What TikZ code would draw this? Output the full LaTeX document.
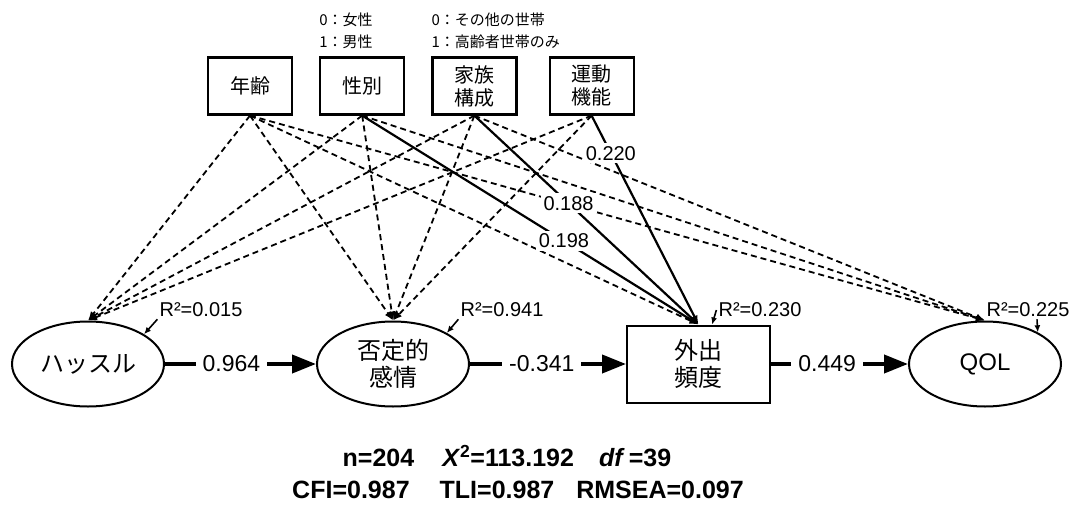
\documentclass[tikz,border=0pt]{standalone}
\usepackage{fontspec}
\setmainfont{Liberation Sans}
\newfontfamily\jpfont{Noto Sans CJK JP}
\usetikzlibrary{arrows.meta,positioning,shapes.geometric}

\begin{document}
\begin{tikzpicture}[
x=1pt, y=-1pt,
topbox/.style={
rectangle,
draw,
line width=2.2pt,
minimum width=84pt,
minimum height=57pt,
inner sep=2pt,
align=center,
font=\jpfont\fontsize{20}{23}\selectfont
},
latent/.style={
ellipse,
draw,
line width=2pt,
minimum width=152pt,
minimum height=85pt,
inner sep=2pt,
align=center,
font=\fontsize{24}{27}\selectfont
},
observed/.style={
rectangle,
draw,
line width=2pt,
minimum width=143pt,
minimum height=77pt,
inner sep=2pt,
align=center,
font=\jpfont\fontsize{24}{27}\selectfont
},
note/.style={
align=left,
inner sep=0pt,
font=\jpfont\fontsize{15}{22}\selectfont
},
dashpath/.style={
-{Latex[length=9pt,width=7pt]},
line width=1.8pt,
dash pattern=on 6pt off 4pt
},
solidpath/.style={
-{Latex[length=9pt,width=7pt]},
line width=2.2pt
},
mainpath/.style={
-{Triangle[length=24pt,width=18pt]},
line width=4pt
},
coef/.style={
fill=white,
inner sep=3pt,
font=\fontsize{20}{22}\selectfont
},
maincoef/.style={
fill=white,
inner xsep=7pt,
inner ysep=1pt,
font=\fontsize{23}{25}\selectfont
},
rsq/.style={
inner sep=2pt,
font=\fontsize{20}{22}\selectfont
},
rsqarrow/.style={
-{Latex[length=7pt,width=6pt]},
line width=1.6pt
},
stats/.style={
inner sep=0pt,
font=\bfseries\fontsize{25}{28}\selectfont
}
]
\useasboundingbox (0,0) rectangle (1073,508);

\node[topbox] (age) at (250,86) {年齢};
\node[topbox, right=26pt of age] (sex) {性別};
\node[topbox, right=26pt of sex] (family) {家族\\構成};
\node[topbox, right=31pt of family] (motor) {運動\\機能};

\node[note, above=7pt of sex.north west, anchor=south west] (sexnote) {0：女性\\1：男性};
\node[note, above=7pt of family.north west, anchor=south west] (familynote) {0：その他の世帯\\1：高齢者世帯のみ};

\node[latent] (hassle) at (88,364) {\jpfont ハッスル};
\node[latent, right=151pt of hassle] (neg) {\jpfont 否定的\\\jpfont 感情};
\node[observed, right=156pt of neg] (freq) {外出\\頻度};
\node[latent, right=137pt of freq] (qol) {QOL};

% covariates to the four outcomes
\foreach \src in {age,sex,family,motor}
  \foreach \dst in {hassle,neg}
    \draw[dashpath] (\src.south) -- (\dst.north);
\foreach \src in {age,sex,family}
  \draw[dashpath] (\src.south) -- (qol.north);
\draw[dashpath] (age.south) -- (freq.north);

\draw[solidpath] (sex.south) -- node[coef, pos=0.6] {0.198} (freq.north);
\draw[solidpath] (family.south) -- node[coef, pos=0.42] {0.188} (freq.north);
\draw[solidpath] (motor.south) -- node[coef, pos=0.18] {0.220} (freq.north);

\draw[mainpath] (hassle) -- node[maincoef, pos=0.44] {0.964} (neg);
\draw[mainpath] (neg) -- node[maincoef, pos=0.46] {-0.341} (freq);
\draw[mainpath] (freq) -- node[maincoef, pos=0.41] {0.449} (qol);

\node[rsq] (rhassle) at (201,310) {R²=0.015};
\node[rsq] (rneg) at (502,310) {R²=0.941};
\node[rsq] (rfreq) at (760,310) {R²=0.230};
\node[rsq] (rqol) at (1028,310) {R²=0.225};

\draw[rsqarrow] (rhassle.south west) -- (hassle.28);
\draw[rsqarrow] (rneg.south west) -- (neg.30);
\draw[rsqarrow] (rfreq.west) -- (freq.71);
\draw[rsqarrow] ([xshift=9pt]rqol.south) -- (qol.31);

\node[stats] (fit1) at (507,456) {n=204\hspace{28pt}\textit{X}\textsuperscript{2}=113.192\hspace{25pt}\textit{df}\,=39};
\node[stats] (fit2) at (518,490) {CFI=0.987\hspace{30pt}TLI=0.987\hspace{22pt}RMSEA=0.097};

\end{tikzpicture}
\end{document}
